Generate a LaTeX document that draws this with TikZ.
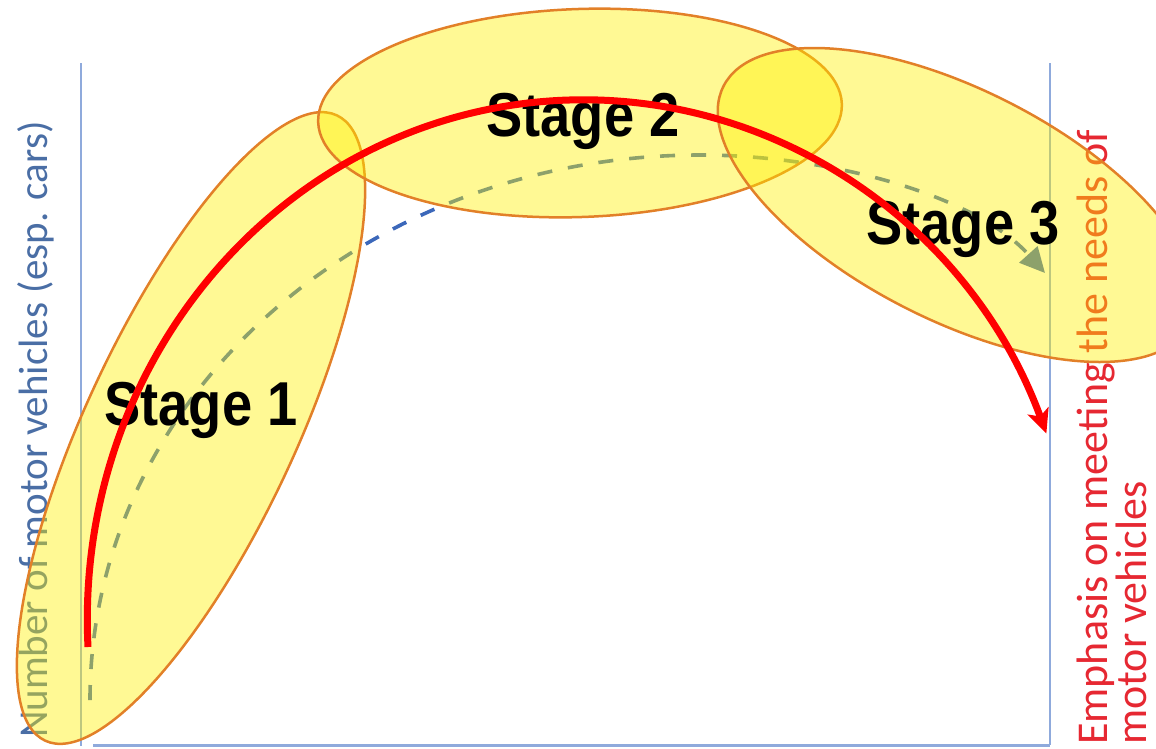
\documentclass[tikz,border=0pt]{standalone}
\usepackage{fontspec}
\setmainfont{Liberation Sans}
\newfontfamily\axisfont{Carlito}
\usetikzlibrary{arrows.meta}

\definecolor{axisblue}{RGB}{143,170,220}
\definecolor{trendblue}{RGB}{60,104,186}
\definecolor{zonefill}{RGB}{255,240,0}
\definecolor{zoneline}{RGB}{226,128,40}
\definecolor{ytext}{RGB}{74,110,165}
\definecolor{emphred}{RGB}{230,40,50}

\begin{document}
\begin{tikzpicture}[x=1pt,y=-1pt,
  axisline/.style={draw=axisblue,line width=2.2pt},
  trend/.style={draw=trendblue,line width=3.6pt,dash pattern=on 15pt off 16pt,
    -{Triangle[length=25pt,width=24pt]}},
  stagezone/.style={fill=zonefill,fill opacity=0.42,draw=zoneline,line width=2.5pt},
  stagelabel/.style={font=\fontsize{62}{62}\selectfont\bfseries,text=black,
    inner sep=0pt,anchor=base},
  sidelabel/.style={font=\axisfont\fontsize{41}{40}\selectfont,inner sep=0pt,rotate=90},
  focus/.style={draw=red,line width=7pt,
    -{Stealth[length=24pt,width=22pt,inset=6pt]}}
]
\useasboundingbox (0,0) rectangle (1156,748);
\clip (0,0) rectangle (1156,748);

% axes
\coordinate (ytop) at (81,63);
\coordinate (ybot) at (81,746);
\coordinate (xleft) at (93,745);
\coordinate (xright) at (1050,745);
\coordinate (rtop) at (1050,63);
\draw[axisline] (ytop) -- (ybot);
\draw[axisline,line width=3pt] (xleft) -- (xright);
\draw[axisline] (rtop) -- (xright);

% axis labels
\node[sidelabel,text=ytext,anchor=base west] (ylab) at (47,738)
  {Number of motor vehicles (esp. cars)};
\node[sidelabel,text=emphred,anchor=north west,align=left,
  font=\axisfont\fontsize{44}{38}\selectfont] (rlab) at (1077,745)
  {Emphasis on meeting the needs of\\motor vehicles};

% growth trend
\coordinate (trendstart) at (90,700);
\coordinate (trendend) at (1045,273);
\draw[trend] (trendstart) arc[start angle=180,end angle=270,x radius=610,y radius=545]
  .. controls (830,155) and (975,195) .. (trendend);

% stages
\path[stagezone,rotate around={65:(191,428)}] (191,428) ellipse[x radius=345,y radius=105];
\path[stagezone,rotate around={2:(580,113)}] (580,113) ellipse[x radius=262,y radius=104];
\path[stagezone,rotate around={-27:(957,205)}] (957,205) ellipse[x radius=262,y radius=115];

\node[stagelabel] (s1) at (201,425) {\scalebox{0.875}[1]{Stage 1}};
\node[stagelabel] (s2) at (583,136) {\scalebox{0.875}[1]{Stage 2}};
\node[stagelabel] (s3) at (963,244) {\scalebox{0.875}[1]{Stage 3}};

% shift of emphasis
\coordinate (arcstart) at (88,647);
\draw[focus] (arcstart) arc[start angle=177,end angle=339,x radius=496,y radius=520];
\end{tikzpicture}
\end{document}
